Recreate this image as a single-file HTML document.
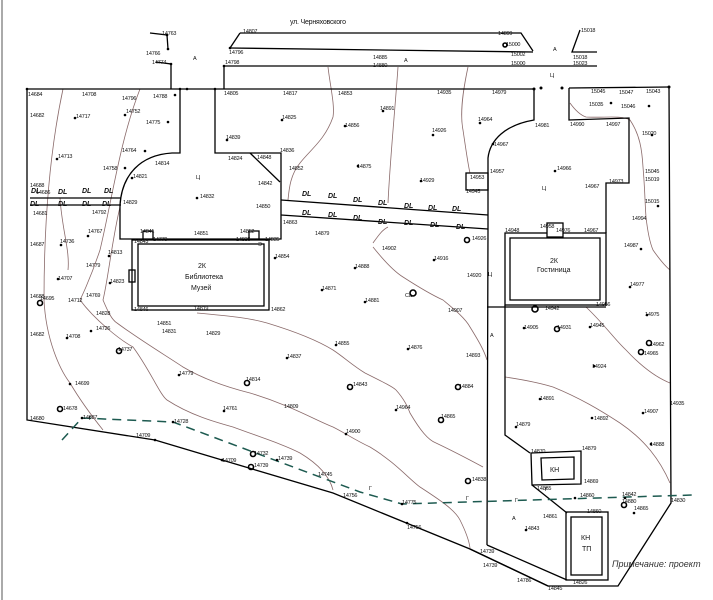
<!DOCTYPE html>
<html><head><meta charset="utf-8"><style>
html,body{margin:0;padding:0;background:#fff;width:713px;height:600px;overflow:hidden}
svg{display:block}
text{font-family:"Liberation Sans",sans-serif;fill:#111}
.n{font-size:5.5px;letter-spacing:-0.2px}
.dl{font-size:7px;font-weight:bold;font-style:italic}
</style></head><body>
<svg width="713" height="600" viewBox="0 0 713 600" xmlns="http://www.w3.org/2000/svg">
<line x1="2" y1="0" x2="2" y2="600" stroke="#aaa" stroke-width="2"/>
<g fill="none" stroke="#8a6a6a" stroke-width="0.8">
<path d="M63,89 C50,150 44,220 44,300 C46,340 60,370 70,383 C80,400 95,420 103,430"/>
<path d="M140,89 C120,140 112,200 100,250 C90,280 80,300 80,300 C95,320 120,340 133,347 C150,370 160,395 167,400 C190,415 215,422 233,427 C260,437 285,445 300,453 C320,465 330,478 333,490"/>
<path d="M120,207 C112,240 108,280 103,300 C108,312 112,320 117,323 C140,340 165,355 183,367 C205,380 230,388 250,393 C290,405 315,420 333,427 C345,433 355,440 370,447 C395,462 410,480 420,487 C440,500 455,510 460,520 C466,532 469,540 470,548"/>
<path d="M197,313 C230,316 250,318 267,323 C300,333 320,342 333,350 C345,358 352,365 365,373 C385,383 393,387 396,390 C405,400 408,408 410,413 C420,430 428,440 436,443 C455,452 470,460 483,467"/>
<path d="M373,243 C378,236 382,230 388,227 M373,247 C385,262 395,272 403,277 C420,288 432,295 443,300 C455,310 465,318 470,327 C478,340 484,350 487,360"/>
<path d="M586,307 C605,325 615,340 626,350 C640,365 655,377 670,383"/>
<path d="M505,377 C525,380 540,383 553,387 C580,398 600,410 620,423 C645,440 660,460 670,483"/>
<path d="M570,103 C575,110 580,115 586,117 C605,118 622,115 630,120 C640,135 642,150 643,167 C645,190 645,205 646,217 C648,235 650,243 653,250 C660,260 665,266 670,270"/>
<path d="M328,67 C330,85 335,105 333,117 C325,140 310,150 300,163 C290,175 289,190 288,200"/>
<path d="M398,67 C395,110 390,160 388,203"/>
<path d="M468,67 C462,95 460,115 463,130 C466,150 468,165 470,173"/>
<path d="M60,198 C62,230 70,250 68,270"/>
</g>
<g fill="none" stroke="#000" stroke-width="1.3">
<polyline points="240,33 521,33 533,51"/>
<polyline points="230,48 533,52"/>
<line x1="240" y1="33" x2="230" y2="48"/>
<line x1="224" y1="66" x2="597" y2="66"/>
<polyline points="580,30 572,52 597,52"/>
<polyline points="150,33 167,35 168,49"/>
<polyline points="156,62 171,64 171,89"/>
<line x1="224" y1="66" x2="224" y2="89"/>
<line x1="27" y1="89" x2="534" y2="89"/>
<line x1="569" y1="88" x2="669" y2="87"/>
<polyline points="27,89 27,420 155,440 222,460 333,493 470,549 548,586 618,586 671,503 669,87"/>
<line x1="30" y1="198" x2="121" y2="198"/>
<line x1="30" y1="205" x2="121" y2="205"/>
<path d="M180,89 L180,153 L172,153 C140,155 122,175 120,205 L120,239 L281,239 L281,153 L215,153 L215,89"/>
<line x1="250" y1="153" x2="280" y2="182"/>
<rect x="132" y="240" width="137" height="70"/>
<rect x="138" y="244" width="126" height="62"/>
<line x1="281" y1="200" x2="488" y2="215"/>
<line x1="281" y1="215" x2="488" y2="229"/>
<path d="M534,89 L534,120 C505,125 490,140 488,158 L488,229 L487,545 M505,305 L505,435 L530,453"/>
<rect x="466" y="173" width="22" height="17"/>
<polyline points="569,88 569,120 629,118 629,183 606,183 606,233"/>
<rect x="505" y="233" width="101" height="72"/>
<rect x="510" y="238" width="90" height="62"/>
<rect x="547" y="223" width="16" height="14" fill="#fff"/>
<line x1="487" y1="307" x2="606" y2="307"/>
<polygon points="531,453 581,451 581,484 532,485"/>
<polygon points="541,458 574,457 574,479 542,480"/>
<line x1="532" y1="485" x2="567" y2="513"/>
<rect x="566" y="512" width="42" height="68"/>
<rect x="571" y="517" width="31" height="58"/>
<line x1="487" y1="545" x2="567" y2="580"/>
<line x1="470" y1="549" x2="548" y2="586"/>
<rect x="143" y="231" width="10" height="8" fill="#fff"/>
<rect x="249" y="231" width="10" height="8" fill="#fff"/>
<rect x="129" y="270" width="6" height="12"/>
</g>
<polyline points="62,440 82,418 173,422 360,492 402,504 693,495" fill="none" stroke="#1d5a50" stroke-width="1.5" stroke-dasharray="9,6"/>
<g class="n">
<text x="290" y="24" style="font-size:7px">ул. Черняховского</text>
<text x="162" y="35">14763</text><text x="146" y="55">14766</text><text x="152" y="64">14774</text>
<text x="243" y="33">14807</text><text x="229" y="54">14796</text><text x="225" y="64">14798</text>
<text x="498" y="35">14899</text><text x="506" y="46">15000</text><text x="511" y="56">15002</text><text x="511" y="65">15000</text>
<text x="581" y="32">15018</text><text x="573" y="59">15018</text><text x="573" y="65">15023</text>
<text x="373" y="59">14885</text><text x="373" y="67">14880</text>
<text x="193" y="60">A</text><text x="404" y="62">A</text><text x="553" y="51">A</text><text x="550" y="77">Ц</text>
<text x="28" y="96">14684</text><text x="82" y="96">14708</text><text x="122" y="100">14796</text><text x="153" y="98">14788</text>
<text x="224" y="95">14805</text><text x="283" y="95">14817</text><text x="338" y="95">14853</text><text x="437" y="94">14935</text><text x="492" y="94">14979</text>
<text x="591" y="93">15045</text><text x="619" y="94">15047</text><text x="646" y="93">15043</text>
<text x="589" y="106">15035</text><text x="621" y="108">15046</text><text x="570" y="126">14990</text><text x="606" y="126">14997</text><text x="642" y="135">15020</text>
<text x="30" y="117">14682</text><text x="76" y="118">14717</text><text x="126" y="113">14752</text><text x="146" y="124">14775</text><text x="122" y="152">14764</text>
<text x="103" y="170">14758</text><text x="133" y="178">14821</text><text x="155" y="165">14814</text><text x="58" y="158">14713</text>
<text x="226" y="139">14839</text><text x="228" y="160">14824</text><text x="257" y="159">14848</text><text x="280" y="152">14836</text>
<text x="258" y="185">14842</text><text x="256" y="208">14850</text><text x="200" y="198">14832</text><text x="123" y="204">14829</text>
<text x="282" y="119">14825</text><text x="345" y="127">14856</text><text x="380" y="110">14891</text><text x="432" y="132">14926</text><text x="478" y="121">14964</text>
<text x="535" y="127">14981</text><text x="494" y="146">14967</text><text x="357" y="168">14875</text><text x="289" y="170">14852</text>
<text x="420" y="182">14929</text><text x="470" y="179">14953</text><text x="490" y="173">14957</text><text x="466" y="193">14945</text>
<text x="557" y="170">14966</text><text x="585" y="188">14967</text><text x="609" y="183">14973</text>
<text x="645" y="173">15045</text><text x="645" y="181">15019</text><text x="645" y="203">15015</text><text x="632" y="220">14994</text>
<text x="624" y="247">14987</text><text x="630" y="286">14977</text><text x="645" y="316">14975</text><text x="650" y="346">14962</text><text x="644" y="355">14965</text>
<text x="30" y="187">14688</text><text x="36" y="194">14686</text><text x="33" y="215">14681</text><text x="92" y="214">14792</text>
<text x="30" y="246">14687</text><text x="60" y="243">14736</text><text x="88" y="233">14767</text><text x="86" y="267">14779</text><text x="58" y="280">14707</text>
<text x="30" y="298">14688</text><text x="40" y="300">14695</text><text x="108" y="254">14813</text><text x="110" y="283">14823</text><text x="86" y="297">14769</text>
<text x="30" y="336">14682</text><text x="66" y="338">14708</text><text x="96" y="330">14726</text><text x="118" y="351">14737</text><text x="68" y="302">14712</text>
<text x="140" y="233">14841</text><text x="153" y="241">14779</text><text x="194" y="235">14851</text><text x="240" y="233">14852</text><text x="236" y="241">14836</text><text x="265" y="241">14835</text>
<text x="134" y="243">14843</text><text x="258" y="246">Э</text>
<text x="134" y="311">14846</text><text x="194" y="310">14819</text><text x="271" y="311">14862</text><text x="96" y="315">14828</text>
<text x="157" y="325">14851</text><text x="162" y="333">14831</text><text x="206" y="335">14829</text>
<text x="283" y="224">14863</text><text x="315" y="235">14879</text><text x="275" y="258">14854</text><text x="355" y="268">14888</text><text x="322" y="290">14871</text>
<text x="365" y="302">14881</text><text x="382" y="250">14902</text><text x="434" y="260">14916</text><text x="472" y="240">14926</text><text x="467" y="277">14920</text>
<text x="448" y="312">14907</text><text x="405" y="297">Ca</text>
<text x="335" y="345">14855</text><text x="287" y="358">14837</text><text x="408" y="349">14876</text><text x="466" y="357">14893</text>
<text x="179" y="375">14779</text><text x="246" y="381">14814</text><text x="353" y="386">14843</text><text x="459" y="388">14884</text>
<text x="223" y="410">14761</text><text x="284" y="408">14809</text><text x="346" y="433">14900</text><text x="396" y="409">14964</text><text x="441" y="418">14865</text>
<text x="75" y="385">14699</text><text x="63" y="410">14678</text><text x="30" y="420">14680</text><text x="83" y="419">14687</text>
<text x="136" y="437">14709</text><text x="174" y="423">14728</text><text x="222" y="462">14709</text><text x="254" y="455">14732</text><text x="278" y="460">14739</text>
<text x="254" y="467">14739</text><text x="318" y="476">14745</text><text x="343" y="497">14756</text><text x="402" y="504">14775</text><text x="407" y="529">14756</text>
<text x="472" y="481">14838</text><text x="480" y="553">14739</text><text x="483" y="567">14739</text><text x="517" y="582">14786</text><text x="548" y="590">14845</text>
<text x="524" y="329">14905</text><text x="557" y="329">14931</text><text x="590" y="327">14945</text><text x="592" y="368">14924</text>
<text x="540" y="400">14891</text><text x="594" y="420">14892</text><text x="516" y="426">14879</text><text x="644" y="413">14907</text><text x="650" y="446">14888</text>
<text x="531" y="453">14870</text><text x="582" y="450">14879</text><text x="584" y="483">14869</text><text x="537" y="490">14865</text>
<text x="580" y="497">14860</text><text x="622" y="496">14842</text><text x="622" y="503">14880</text><text x="634" y="510">14865</text><text x="671" y="502">14830</text>
<text x="543" y="518">14861</text><text x="525" y="530">14843</text><text x="587" y="513">14860</text><text x="573" y="584">14826</text><text x="670" y="405">14935</text>
<text x="540" y="228">14958</text><text x="556" y="232">14976</text><text x="505" y="232">14948</text><text x="584" y="232">14967</text>
<text x="545" y="310">14942</text><text x="596" y="306">14956</text><text x="490" y="337">A</text><text x="512" y="520">A</text><text x="515" y="502">Г</text><text x="466" y="500">Г</text>
<text x="89" y="420">Г</text><text x="369" y="490">Г</text><text x="488" y="276">Ц</text><text x="542" y="190">Ц</text><text x="196" y="179">Ц</text><text x="545" y="491">Г</text>
</g>
<g style="font-size:7px">
<text x="198" y="268">2К</text><text x="185" y="279">Библиотека</text><text x="191" y="290">Музей</text>
<text x="550" y="263">2К</text><text x="537" y="272">Гостиница</text>
<text x="550" y="472">КН</text><text x="581" y="540">КН</text><text x="582" y="551">ТП</text>
</g>
<text x="612" y="567" style="font-size:9px;font-style:italic;fill:#333">Примечание: проект</text>
<g class="dl">
<text x="31" y="193">DL</text><text x="58" y="194">DL</text><text x="82" y="193">DL</text><text x="104" y="193">DL</text>
<text x="30" y="206">DL</text><text x="58" y="206">DL</text><text x="82" y="206">DL</text><text x="102" y="206">DL</text>
<text x="302" y="196">DL</text><text x="328" y="198">DL</text><text x="353" y="202">DL</text><text x="378" y="205">DL</text><text x="404" y="208">DL</text><text x="428" y="210">DL</text><text x="452" y="211">DL</text>
<text x="302" y="215">DL</text><text x="328" y="217">DL</text><text x="353" y="220">DL</text><text x="378" y="224">DL</text><text x="404" y="225">DL</text><text x="430" y="227">DL</text><text x="456" y="229">DL</text>
</g>
<g fill="#000">
<circle cx="167" cy="35" r="1.3"/><circle cx="168" cy="49" r="1.3"/><circle cx="171" cy="64" r="1.3"/><circle cx="230" cy="48" r="1.3"/><circle cx="224" cy="66" r="1.3"/>
<circle cx="27" cy="89" r="1.3"/><circle cx="180" cy="89" r="1.3"/><circle cx="187" cy="89" r="1.3"/><circle cx="215" cy="89" r="1.3"/><circle cx="534" cy="89" r="1.5"/><circle cx="541" cy="88" r="1.5"/><circle cx="562" cy="88" r="1.5"/><circle cx="669" cy="87" r="1.5"/>
<circle cx="175" cy="95" r="1.3"/><circle cx="125" cy="115" r="1.3"/><circle cx="168" cy="122" r="1.3"/><circle cx="145" cy="151" r="1.3"/><circle cx="75" cy="118" r="1.3"/><circle cx="57" cy="159" r="1.3"/>
<circle cx="125" cy="168" r="1.3"/><circle cx="132" cy="178" r="1.3"/><circle cx="197" cy="198" r="1.3"/><circle cx="227" cy="140" r="1.3"/><circle cx="282" cy="120" r="1.3"/><circle cx="345" cy="126" r="1.3"/><circle cx="383" cy="111" r="1.3"/>
<circle cx="433" cy="135" r="1.3"/><circle cx="480" cy="123" r="1.3"/><circle cx="493" cy="144" r="1.3"/><circle cx="358" cy="166" r="1.3"/><circle cx="421" cy="181" r="1.3"/><circle cx="555" cy="171" r="1.3"/><circle cx="611" cy="103" r="1.3"/><circle cx="649" cy="106" r="1.3"/><circle cx="652" cy="135" r="1.3"/>
<circle cx="658" cy="206" r="1.3"/><circle cx="641" cy="249" r="1.3"/><circle cx="630" cy="287" r="1.3"/><circle cx="647" cy="315" r="1.3"/>
<circle cx="61" cy="245" r="1.3"/><circle cx="88" cy="236" r="1.3"/><circle cx="58" cy="279" r="1.3"/><circle cx="109" cy="256" r="1.3"/><circle cx="110" cy="283" r="1.3"/><circle cx="67" cy="338" r="1.3"/><circle cx="91" cy="331" r="1.3"/>
<circle cx="275" cy="258" r="1.3"/><circle cx="355" cy="268" r="1.3"/><circle cx="322" cy="290" r="1.3"/><circle cx="365" cy="302" r="1.3"/><circle cx="434" cy="260" r="1.3"/><circle cx="336" cy="345" r="1.3"/><circle cx="287" cy="358" r="1.3"/><circle cx="408" cy="349" r="1.3"/>
<circle cx="179" cy="375" r="1.3"/><circle cx="224" cy="411" r="1.3"/><circle cx="346" cy="434" r="1.3"/><circle cx="396" cy="410" r="1.3"/><circle cx="70" cy="384" r="1.3"/><circle cx="82" cy="418" r="1.3"/><circle cx="173" cy="422" r="1.3"/><circle cx="155" cy="440" r="1.3"/><circle cx="222" cy="460" r="1.3"/><circle cx="277" cy="460" r="1.3"/>
<circle cx="402" cy="504" r="1.3"/><circle cx="407" cy="523" r="1.3"/><circle cx="524" cy="328" r="1.3"/><circle cx="590" cy="327" r="1.3"/><circle cx="594" cy="366" r="1.3"/><circle cx="540" cy="399" r="1.3"/><circle cx="592" cy="418" r="1.3"/><circle cx="643" cy="413" r="1.3"/><circle cx="651" cy="444" r="1.3"/>
<circle cx="516" cy="427" r="1.3"/><circle cx="625" cy="498" r="1.3"/><circle cx="634" cy="513" r="1.3"/><circle cx="526" cy="530" r="1.3"/><circle cx="575" cy="498" r="1.3"/>
</g>
<g fill="none" stroke="#000" stroke-width="1.6">
<circle cx="467" cy="240" r="2.5"/><circle cx="413" cy="293" r="3"/><circle cx="535" cy="309" r="3"/><circle cx="557" cy="329" r="2.5"/><circle cx="649" cy="343" r="2.5"/><circle cx="641" cy="352" r="2.5"/>
<circle cx="119" cy="351" r="2.5"/><circle cx="60" cy="409" r="2.5"/><circle cx="247" cy="383" r="2.5"/><circle cx="350" cy="387" r="2.5"/><circle cx="458" cy="387" r="2.5"/><circle cx="441" cy="420" r="2.5"/>
<circle cx="253" cy="454" r="2.5"/><circle cx="251" cy="467" r="2.5"/><circle cx="468" cy="481" r="2.5"/><circle cx="624" cy="505" r="2.5"/><circle cx="40" cy="303" r="2.5"/><circle cx="505" cy="45" r="2"/>
</g>
</svg>
</body></html>
